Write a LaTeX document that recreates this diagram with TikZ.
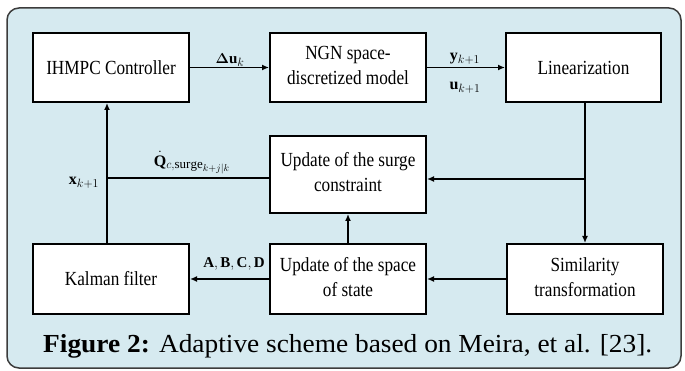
\documentclass[tikz,border=0pt]{standalone}
\usepackage{fontspec}
\usepackage{graphicx}
\usepackage{amsmath}
\setmainfont{Liberation Serif}
\DeclareMathSizes{15}{15}{11.5}{9}
\DeclareMathSizes{16}{16}{13}{10}
\usetikzlibrary{arrows.meta}
\definecolor{bgblue}{RGB}{214,234,240}
\definecolor{frame}{RGB}{60,60,60}
\newcommand{\nar}[1]{\scalebox{0.86}[1]{#1}}
\tikzset{
  blk/.style={draw=black,fill=white,line width=2pt,minimum width=156pt,minimum height=69pt,inner sep=0pt,
    font=\fontsize{20}{25}\selectfont},
  arr/.style={line width=1.6pt,-{Latex[length=7pt,width=6pt]}},
  ln/.style={line width=1.6pt},
  lab/.style={font=\fontsize{15}{17}\selectfont,inner sep=0pt},
  labb/.style={font=\fontsize{16}{18}\selectfont,inner sep=0pt}
}
\begin{document}
\begin{tikzpicture}[x=1pt,y=-1pt]
\useasboundingbox (0,0) rectangle (685,371);
\fill[white] (0,0) rectangle (685,371);
\draw[frame,fill=bgblue,line width=1.5pt,rounded corners=12pt] (7,8) rectangle (681,368);

\node[blk] (ihmpc) at (111,67.5) {\nar{IHMPC Controller}};
\node[blk] (ngn) at (348,67.5) {\nar{\begin{tabular}{@{}c@{}}NGN space-\\discretized model\end{tabular}}};
\node[blk,minimum width=155pt] (lin) at (583.5,67.5) {\nar{Linearization}};
\node[blk,minimum height=77pt] (surge) at (348,174.5) {\nar{\begin{tabular}{@{}c@{}}Update of the surge\\constraint\end{tabular}}};
\node[blk,minimum height=70pt] (kal) at (111,279) {\nar{Kalman filter}};
\node[blk,minimum height=70pt] (space) at (348,279) {\nar{\begin{tabular}{@{}c@{}}Update of the space\\of state\end{tabular}}};
\node[blk,minimum height=70pt] (sim) at (585,279) {\nar{\begin{tabular}{@{}c@{}}Similarity\\transformation\end{tabular}}};

\draw[arr] (ihmpc.east) -- (ngn.west);
\draw[arr] (ngn.east) -- (lin.west);
\coordinate (ltop) at ([xshift=1.5pt]lin.south);
\draw[arr] (ltop) -- (ltop |- sim.north);
\coordinate (br) at (ltop |- 0,179);
\draw[arr] (br) -- (br -| surge.east);
\draw[arr] (sim.west) -- (space.east);
\draw[arr] (space.west) -- (kal.east);
\draw[arr] (space.north) -- (surge.south);
\coordinate (kt) at ([xshift=-4pt]kal.north);
\draw[arr] (kt) -- (kt |- ihmpc.south);
\coordinate (sw) at ([yshift=-3.5pt]surge.west);
\draw[ln] (sw) -- (sw -| kt);

\node[lab] (l1) at (230,60) {$\boldsymbol{\Delta}\mathbf{u}_k$};
\node[labb] (l2) at (465,59) {$\mathbf{y}_{k+1}$};
\node[labb] (l3) at (465,88) {$\mathbf{u}_{k+1}$};
\node[labb] (l4) at (192,163) {$\dot{\mathbf{Q}}_{c,\mathrm{surge}_{k+j|k}}$};
\node[labb] (l5) at (84,183) {$\mathbf{x}_{k+1}$};
\node[lab] (l6) at (234,264) {$\mathbf{A},\mathbf{B},\mathbf{C},\mathbf{D}$};

\node[anchor=base west,inner sep=0pt] (cap) at (43,352)
  {\resizebox{609pt}{\height}{\fontsize{26}{30}\selectfont\textbf{Figure 2:} Adaptive scheme based on Meira, et al. [23].}};
\end{tikzpicture}
\end{document}
